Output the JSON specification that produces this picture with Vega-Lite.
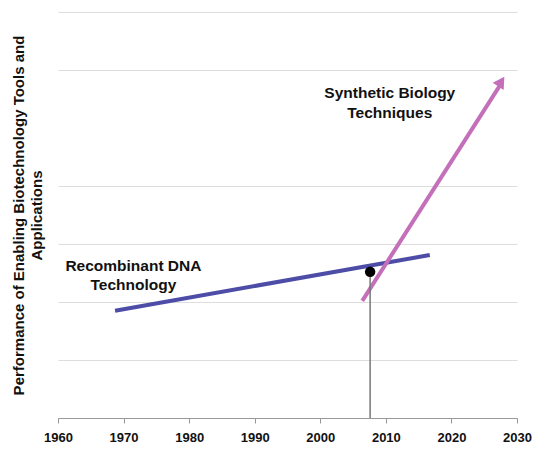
{
  "$schema": "https://vega.github.io/schema/vega-lite/v6.json",
  "autosize": "none",
  "width": 459,
  "height": 406,
  "padding": {"left": 58, "top": 12, "right": 18, "bottom": 31},
  "background": "white",
  "config": {"view": {"stroke": null}, "font": "Liberation Sans"},
  "datasets": {
    "lines": [
      {"series": "Recombinant DNA", "year": 1968.7, "value": 1.85},
      {"series": "Recombinant DNA", "year": 2016.7, "value": 2.81},
      {"series": "Synthetic Biology", "year": 2006.4, "value": 2.02},
      {"series": "Synthetic Biology", "year": 2027.6, "value": 5.77}
    ],
    "arrow": [{"year": 2027.6, "value": 5.8}],
    "marker": [{"year": 2007.6, "value": 2.52, "base": 0}],
    "labels": [
      {"label": "Recombinant DNA", "year": 1971.5, "value": 2.62},
      {"label": "Technology", "year": 1971.5, "value": 2.29},
      {"label": "Synthetic Biology", "year": 2010.6, "value": 5.6},
      {"label": "Techniques", "year": 2010.6, "value": 5.26}
    ]
  },
  "layer": [
    {
      "data": {"name": "lines"},
      "mark": {"type": "line", "strokeWidth": 4, "strokeCap": "butt"},
      "encoding": {
        "x": {
          "field": "year", "type": "quantitative",
          "scale": {"domain": [1960, 2030], "nice": false, "zero": false},
          "axis": {
            "title": null, "values": [1960, 1970, 1980, 1990, 2000, 2010, 2020, 2030],
            "format": "d", "grid": false, "domainColor": "#999999", "tickColor": "#999999",
            "tickSize": 5, "labelFontWeight": "bold", "labelFontSize": 13, "labelColor": "#111111",
            "labelPadding": 8, "labelFont": "Liberation Sans", "labelFlush": false, "labelOverlap": false
          }
        },
        "y": {
          "field": "value", "type": "quantitative",
          "scale": {"domain": [0, 7], "nice": false},
          "axis": {
            "values": [0, 1, 2, 3, 4, 6, 7], "labels": false, "ticks": false, "domain": false,
            "grid": true, "gridColor": "#dddddd", "gridWidth": 1.2,
            "title": ["Performance of Enabling Biotechnology Tools and", "Applications"],
            "titleFontSize": 15, "titleFontWeight": "bold", "titleColor": "#111111",
            "titlePadding": 14, "titleFont": "Liberation Sans", "titleLineHeight": 18
          }
        },
        "color": {
          "field": "series", "type": "nominal",
          "scale": {"domain": ["Recombinant DNA", "Synthetic Biology"], "range": ["#4d4ca6", "#c46fb9"]},
          "legend": null
        }
      }
    },
    {
      "data": {"name": "arrow"},
      "mark": {"type": "point", "shape": "triangle-up", "filled": true, "opacity": 1, "color": "#c46fb9", "size": 170, "angle": 33},
      "encoding": {
        "x": {"field": "year", "type": "quantitative"},
        "y": {"field": "value", "type": "quantitative"}
      }
    },
    {
      "data": {"name": "marker"},
      "mark": {"type": "rule", "color": "#777777", "strokeWidth": 1.5},
      "encoding": {
        "x": {"field": "year", "type": "quantitative"},
        "y": {"field": "value", "type": "quantitative"},
        "y2": {"field": "base"}
      }
    },
    {
      "data": {"name": "marker"},
      "mark": {"type": "point", "shape": "circle", "filled": true, "opacity": 1, "color": "#000000", "size": 110},
      "encoding": {
        "x": {"field": "year", "type": "quantitative"},
        "y": {"field": "value", "type": "quantitative"}
      }
    },
    {
      "data": {"name": "labels"},
      "mark": {"type": "text", "fontSize": 15.5, "fontWeight": "bold", "color": "#111111", "align": "center", "baseline": "middle", "font": "Liberation Sans"},
      "encoding": {
        "x": {"field": "year", "type": "quantitative"},
        "y": {"field": "value", "type": "quantitative"},
        "text": {"field": "label"}
      }
    }
  ]
}
